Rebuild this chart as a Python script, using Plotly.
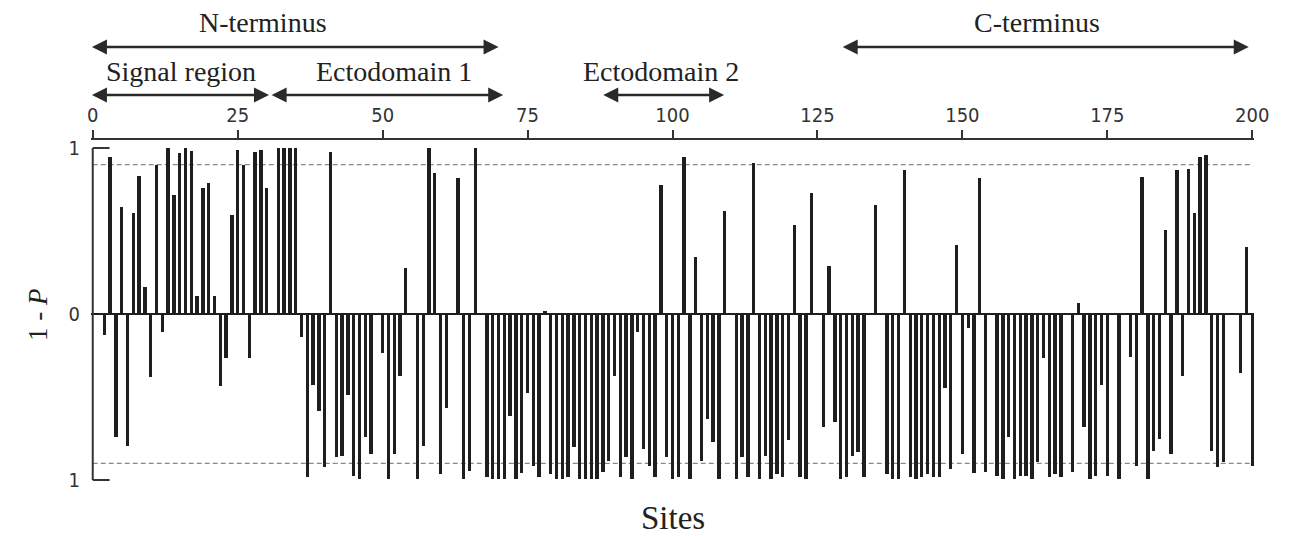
import plotly.graph_objects as go

# ---- data ----
sites = [2, 3, 4, 5, 6, 7, 8, 9, 10, 11, 12, 13, 14, 15, 16, 17, 18, 19, 20, 21,
         22, 23, 24, 25, 26, 27, 28, 29, 30, 32, 33, 34, 35, 36, 37, 38, 39, 40, 41, 42,
         43, 44, 45, 46, 47, 48, 50, 51, 52, 53, 54, 56, 57, 58, 59, 60, 61, 63, 64, 65,
         66, 68, 69, 70, 71, 72, 73, 74, 75, 76, 77, 78, 79, 80, 81, 82, 83, 84, 85, 86,
         87, 88, 89, 90, 91, 92, 93, 94, 95, 96, 97, 98, 99, 100, 101, 102, 103, 104, 105, 106,
         107, 108, 109, 111, 112, 113, 114, 115, 116, 117, 118, 119, 120, 121, 122, 123, 124, 126, 127, 128,
         129, 130, 131, 132, 133, 135, 137, 138, 139, 140, 141, 142, 143, 144, 145, 146, 147, 148, 149, 150,
         151, 152, 153, 154, 156, 157, 158, 159, 160, 161, 162, 163, 164, 165, 166, 167, 169, 170, 171, 172,
         173, 174, 175, 177, 179, 180, 181, 182, 183, 184, 185, 186, 187, 188, 189, 190, 191, 192, 193, 194,
         195, 198, 199, 200]

values = [-0.125, 0.948, -0.743, 0.647, -0.793, 0.608, 0.829, 0.161, -0.378, 0.898,
          -0.106, 0.998, 0.717, 0.968, 1.0, 0.984, 0.108, 0.757, 0.787, 0.108,
          -0.436, -0.267, 0.596, 0.988, 0.898, -0.267, 0.978, 0.988, 0.757, 1.0,
          1.0, 1.0, 1.0, -0.137, -0.984, -0.426, -0.586, -0.924, 0.978, -0.863,
          -0.853, -0.486, -0.974, -0.994, -0.743, -0.843, -0.235, -0.994, -0.843, -0.375,
          0.277, -0.994, -0.793, 1.0, 0.847, -0.964, -0.566, 0.817, -0.994, -0.944,
          1.0, -0.984, -0.994, -0.994, -0.994, -0.614, -0.994, -0.96, -0.478, -0.914,
          -0.984, 0.016, -0.964, -0.994, -0.994, -0.984, -0.803, -0.994, -0.994, -0.994,
          -0.994, -0.954, -0.884, -0.375, -0.984, -0.863, -0.994, -0.106, -0.813, -0.914,
          -0.984, 0.777, -0.863, -0.994, -0.984, 0.948, -0.994, 0.341, -0.884, -0.633,
          -0.773, -0.994, 0.618, -0.994, -0.863, -0.984, 0.908, -0.994, -0.853, -0.994,
          -0.964, -0.984, -0.757, 0.536, -0.984, -0.994, 0.729, -0.683, 0.287, -0.653,
          -0.994, -0.984, -0.853, -0.833, -0.984, 0.657, -0.964, -0.994, -0.994, 0.867,
          -0.984, -0.994, -0.984, -0.964, -0.984, -0.984, -0.446, -0.934, 0.418, -0.843,
          -0.086, -0.96, 0.817, -0.954, -0.974, -0.994, -0.743, -0.994, -0.974, -0.974,
          -0.994, -0.894, -0.267, -0.984, -0.964, -0.984, -0.954, 0.066, -0.683, -0.994,
          -0.974, -0.426, -0.974, -0.994, -0.257, -0.914, 0.827, -0.994, -0.823, -0.753,
          0.506, -0.843, 0.867, -0.375, 0.873, 0.608, 0.948, 0.958, -0.823, -0.924,
          -0.894, -0.355, 0.406, -0.914]

x_ticks = [0, 25, 50, 75, 100, 125, 150, 175, 200]
y_tickvals = [-1, 0, 1]
y_ticktext = ["1", "0", "1"]
threshold = 0.9

# regions: (label, start site, end site, level)
region_labels = ["N-terminus", "C-terminus", "Signal region", "Ectodomain 1", "Ectodomain 2"]
region_starts = [-0.4, 129.1, -0.4, 30.6, 87.8]
region_ends = [70.0, 199.4, 30.4, 70.8, 108.9]
region_label_x = [29.3, 162.8, 15.2, 52.0, 98.1]
region_level = ["outer", "outer", "inner", "inner", "inner"]

SERIF = "Liberation Serif, Times New Roman, serif"
NARROW = "Liberation Sans Narrow, Arial Narrow, DejaVu Sans Condensed, sans-serif"
INK = "#1e1e1e"

fig = go.Figure()
fig.add_trace(go.Bar(x=sites, y=values, width=0.58,
                     marker=dict(color=INK, line=dict(width=0)),
                     showlegend=False, hoverinfo="x+y"))

# dashed threshold lines
for yv in (threshold, -threshold):
    fig.add_shape(type="line", xref="x", yref="y", x0=0, x1=200, y0=yv, y1=yv,
                  line=dict(color="#8a8a8a", width=1.3, dash="5px,3px"), layer="below")

# left bracket
br = dict(color="#333333", width=2)
fig.add_shape(type="line", xref="x", yref="y", x0=0, x1=0, y0=-1, y1=1, line=br)
fig.add_shape(type="line", xref="x", yref="y", x0=0, x1=2.9, y0=1, y1=1, line=br)
fig.add_shape(type="line", xref="x", yref="y", x0=0, x1=2.9, y0=-1, y1=-1, line=br)

# region arrows and labels (paper y: 0 at bottom of plot area, 1 at its top)
level_arrow_y = {"outer": 1.272, "inner": 1.1316}
level_text_y = {"outer": 1.345, "inner": 1.199}
for lab, s0, s1, lx, lev in zip(region_labels, region_starts, region_ends, region_label_x, region_level):
    fig.add_annotation(xref="x", yref="paper", x=s1, y=level_arrow_y[lev],
                       axref="x", ayref="pixel", ax=s0, ay=0, text="",
                       showarrow=True, arrowside="end+start",
                       arrowhead=2, startarrowhead=2, arrowsize=1.2, startarrowsize=1.2,
                       arrowwidth=2.5, arrowcolor="#2a2a2a")
    fig.add_annotation(xref="x", yref="paper", x=lx, y=level_text_y[lev], text=lab,
                       showarrow=False, yanchor="middle", xanchor="center",
                       font=dict(family=SERIF, size=28, color="#222"))

# axis titles
fig.add_annotation(xref="x", yref="paper", x=100, y=-0.105, text="Sites", showarrow=False,
                   yanchor="middle", font=dict(family=SERIF, size=33, color="#222"))
fig.add_annotation(xref="paper", yref="paper", x=-0.0456, y=0.491, text="1 - <i>P</i>",
                   showarrow=False, textangle=-90, xanchor="center", yanchor="middle",
                   font=dict(family=SERIF, size=27, color="#222"))

fig.update_layout(
    width=1292, height=536,
    margin=dict(l=91, r=38, t=140, b=54, autoexpand=False),
    paper_bgcolor="white", plot_bgcolor="white",
    bargap=0,
    xaxis=dict(side="top", range=[-0.3, 200.3], tickvals=x_ticks, automargin=False,
               ticks="outside", ticklen=8, tickwidth=1.5, tickcolor="#333",
               showline=True, linecolor="#333", linewidth=1.5,
               showgrid=False, zeroline=False,
               tickfont=dict(family=NARROW, size=20, color="#333")),
    yaxis=dict(range=[-1.012, 1.048], tickvals=y_tickvals, ticktext=y_ticktext,
               automargin=False,
               ticks="", showgrid=False, showline=False,
               zeroline=True, zerolinecolor=INK, zerolinewidth=2,
               ticklabelstandoff=10,
               tickfont=dict(family=NARROW, size=20, color="#333")),
)

fig.write_html("out.html", config={"displayModeBar": False},
               post_script="document.body.style.margin='0';document.body.style.overflow='hidden';")
